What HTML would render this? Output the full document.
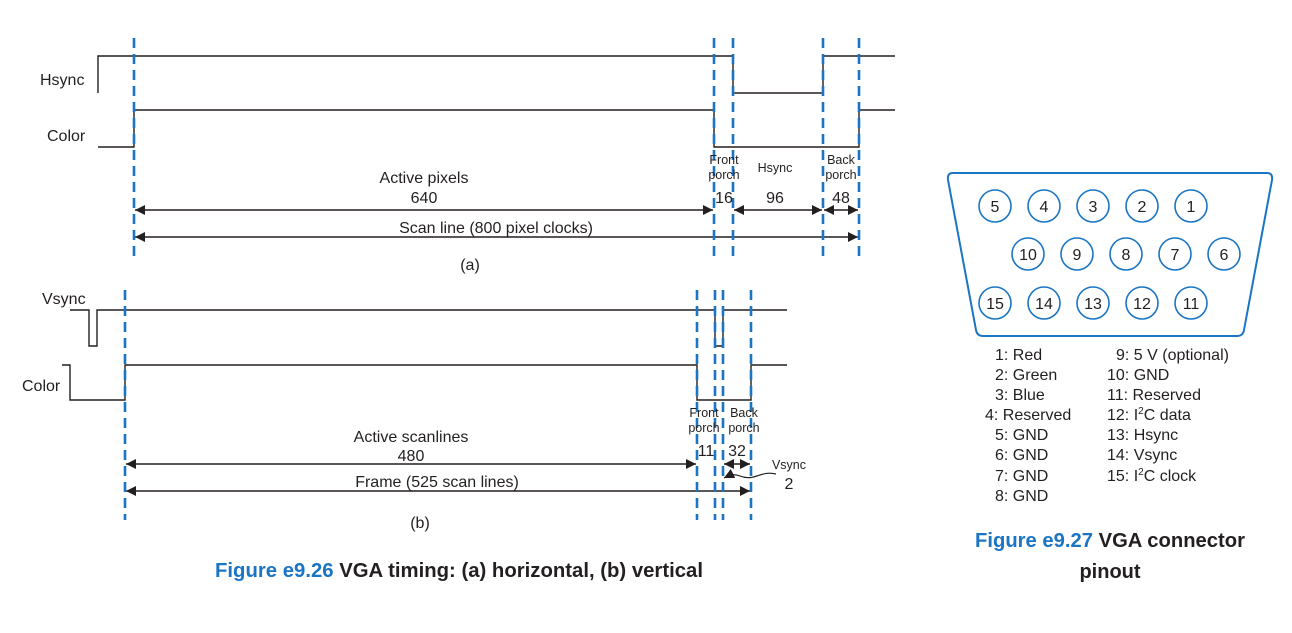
<!DOCTYPE html>
<html><head><meta charset="utf-8"><style>body{margin:0;background:#fff}svg{display:block}text{font-family:"Liberation Sans",sans-serif;fill:#231f20}</style></head>
<body>
<svg width="1292" height="633" viewBox="0 0 1292 633" xmlns="http://www.w3.org/2000/svg">
<defs>
<marker id="ah" viewBox="0 0 10 10" refX="10" refY="5" markerWidth="12" markerHeight="10" markerUnits="userSpaceOnUse" orient="auto-start-reverse"><path d="M0,0L10,5L0,10z" fill="#231f20"/></marker>
</defs>
<g fill="none" stroke="#231f20" stroke-width="1.4">
<path d="M98,93V56H733V93H823V56H895"/>
<path d="M98,147H134V110H714V147H859V110H895"/>
<path d="M70,310H89V346H97V310H715V346H723V310H787"/>
<path d="M62,365H70V400H125V365H697V400H751V365H787"/>
</g>
<g stroke="#231f20" stroke-width="1.4" marker-end="url(#ah)" marker-start="url(#ah)">
<line x1="135" y1="210" x2="713" y2="210" marker-start="url(#ah)"/>
<line x1="734" y1="210" x2="822" y2="210"/>
<line x1="824" y1="210" x2="858" y2="210"/>
<line x1="135" y1="237" x2="858" y2="237"/>
<line x1="126" y1="464" x2="696" y2="464"/>
<line x1="724" y1="464" x2="750" y2="464"/>
<line x1="126" y1="491" x2="750" y2="491"/>
</g>
<path d="M776,474 C760,470 755,482 740,476 C732,473 728,476 724,478" fill="none" stroke="#231f20" stroke-width="1.2" marker-end="url(#ah)"/>
<g stroke="#1a75c4" stroke-width="2.6" stroke-dasharray="10,6">
<line x1="134" y1="38" x2="134" y2="256"/><line x1="714" y1="38" x2="714" y2="256"/><line x1="733" y1="38" x2="733" y2="256"/><line x1="823" y1="38" x2="823" y2="256"/><line x1="859" y1="38" x2="859" y2="256"/>
<line x1="125" y1="290" x2="125" y2="520"/><line x1="697" y1="290" x2="697" y2="520"/><line x1="715" y1="290" x2="715" y2="520"/><line x1="723" y1="290" x2="723" y2="520"/><line x1="751" y1="290" x2="751" y2="520"/>
</g>
<g font-size="16">
<text x="40" y="85">Hsync</text>
<text x="47" y="141">Color</text>
<text x="424" y="183" text-anchor="middle">Active pixels</text>
<text x="424" y="203" text-anchor="middle">640</text>
<text x="724" y="203" text-anchor="middle">16</text>
<text x="775" y="203" text-anchor="middle">96</text>
<text x="841" y="203" text-anchor="middle">48</text>
<text x="496" y="233" text-anchor="middle">Scan line (800 pixel clocks)</text>
<text x="470" y="270" text-anchor="middle">(a)</text>
<text x="42" y="304">Vsync</text>
<text x="22" y="391">Color</text>
<text x="411" y="442" text-anchor="middle">Active scanlines</text>
<text x="411" y="461" text-anchor="middle">480</text>
<text x="706" y="456" text-anchor="middle">11</text>
<text x="737" y="456" text-anchor="middle">32</text>
<text x="789" y="489" text-anchor="middle">2</text>
<text x="437" y="487" text-anchor="middle">Frame (525 scan lines)</text>
<text x="420" y="528" text-anchor="middle">(b)</text>
</g>
<g font-size="12.5" text-anchor="middle">
<text x="724" y="164">Front</text><text x="724" y="179">porch</text>
<text x="775" y="172">Hsync</text>
<text x="841" y="164">Back</text><text x="841" y="179">porch</text>
<text x="704" y="417">Front</text><text x="704" y="432">porch</text>
<text x="744" y="417">Back</text><text x="744" y="432">porch</text>
<text x="789" y="469">Vsync</text>
</g>
<text x="215" y="577" font-size="20" font-weight="bold" textLength="488" lengthAdjust="spacingAndGlyphs"><tspan style="fill:#1a75c4">Figure e9.26</tspan>  VGA timing: (a) horizontal, (b) vertical</text>
<text x="975" y="547" font-size="20" font-weight="bold" textLength="270" lengthAdjust="spacingAndGlyphs"><tspan style="fill:#1a75c4">Figure e9.27</tspan>  VGA connector</text>
<text x="1110" y="578" font-size="20" font-weight="bold" text-anchor="middle">pinout</text>
<path d="M953,173H1267Q1273,173 1272,180L1244,330Q1243,336 1237,336H983Q977,336 976,330L948,180Q947,173 953,173Z" fill="none" stroke="#1a75c4" stroke-width="2"/>
<g fill="none" stroke="#1a75c4" stroke-width="1.6">
<circle cx="995" cy="206" r="16"/><circle cx="1044" cy="206" r="16"/><circle cx="1093" cy="206" r="16"/><circle cx="1142" cy="206" r="16"/><circle cx="1191" cy="206" r="16"/>
<circle cx="1028" cy="254" r="16"/><circle cx="1077" cy="254" r="16"/><circle cx="1126" cy="254" r="16"/><circle cx="1175" cy="254" r="16"/><circle cx="1224" cy="254" r="16"/>
<circle cx="995" cy="303" r="16"/><circle cx="1044" cy="303" r="16"/><circle cx="1093" cy="303" r="16"/><circle cx="1142" cy="303" r="16"/><circle cx="1191" cy="303" r="16"/>
</g>
<g font-size="16" text-anchor="middle">
<text x="995" y="212">5</text><text x="1044" y="212">4</text><text x="1093" y="212">3</text><text x="1142" y="212">2</text><text x="1191" y="212">1</text>
<text x="1028" y="260">10</text><text x="1077" y="260">9</text><text x="1126" y="260">8</text><text x="1175" y="260">7</text><text x="1224" y="260">6</text>
<text x="995" y="309">15</text><text x="1044" y="309">14</text><text x="1093" y="309">13</text><text x="1142" y="309">12</text><text x="1191" y="309">11</text>
</g>
<g font-size="16">
<text x="995" y="360">1: Red</text><text x="995" y="380">2: Green</text><text x="995" y="400">3: Blue</text><text x="985" y="420">4: Reserved</text>
<text x="995" y="440">5: GND</text><text x="995" y="460">6: GND</text><text x="995" y="481">7: GND</text><text x="995" y="501">8: GND</text>
<text x="1116" y="360">9: 5 V (optional)</text><text x="1107" y="380">10: GND</text><text x="1107" y="400">11: Reserved</text>
<text x="1107" y="420">12: I<tspan font-size="10" dy="-6">2</tspan><tspan dy="6">C data</tspan></text>
<text x="1107" y="440">13: Hsync</text><text x="1107" y="460">14: Vsync</text>
<text x="1107" y="481">15: I<tspan font-size="10" dy="-6">2</tspan><tspan dy="6">C clock</tspan></text>
</g>
</svg>
</body></html>
